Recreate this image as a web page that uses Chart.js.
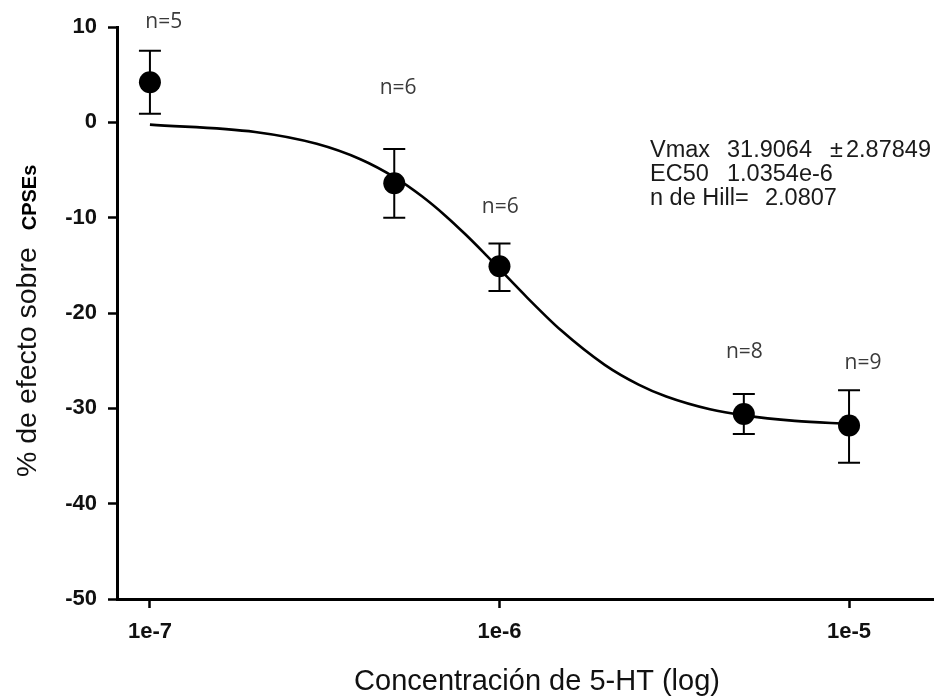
<!DOCTYPE html>
<html>
<head>
<meta charset="utf-8">
<script src="https://cdn.jsdelivr.net/npm/chart.js@4/dist/chart.umd.min.js"></script>
<style>
  html, body { margin: 0; padding: 0; background: #fff; }
  #c { display: block; }
</style>
</head>
<body>
<canvas id="c" width="934" height="696"></canvas>
<script>
// ---- data ----
const concentrations = [1e-7, 5e-7, 1e-6, 5e-6, 1e-5];
const meanEffect     = [4.2, -6.4, -15.1, -30.6, -31.8];
const errUpper       = [7.5, -2.8, -12.7, -28.5, -28.1];
const errLower       = [0.9, -10.0, -17.7, -32.7, -35.7];
const nLabels        = ['n=5', 'n=6', 'n=6', 'n=8', 'n=9'];
const nLabelX        = [1.095e-7, 5.13e-7, 1.005e-6, 5.02e-6, 1.096e-5];
const nLabelY        = [10.55, 3.6, -8.9, -24.1, -25.2];

// fitted sigmoid curve
const curveX = [1e-7, 2e-7, 3e-7, 4e-7, 5e-7, 6e-7, 7e-7, 8e-7, 9e-7, 1e-6,
                1.2e-6, 1.5e-6, 2e-6, 2.5e-6, 3e-6, 4e-6, 5e-6, 7e-6, 1e-5];
const curveY = [-0.24, -1.01, -2.25, -3.87, -5.75, -7.76, -9.79, -11.77, -13.64, -15.38,
                -18.38, -21.82, -25.44, -27.51, -28.76, -30.10, -30.74, -31.32, -31.63];

const xTickValues = [1e-7, 1e-6, 1e-5];
const xTickLabels = ['1e-7', '1e-6', '1e-5'];
const yMin = -50, yMax = 10, yStep = 10;

const fitLines = [
  ['Vmax', '31.9064', '\u00B1', '2.87849'],
  ['EC50', '1.0354e-6'],
  ['n de Hill=', '2.0807']
];

const xTitle = 'Concentración de 5-HT (log)';
const yTitleMain = '% de efecto sobre';
const yTitleSub = 'CPSEs';

// ---- chart ----
const SANS = '"Liberation Sans", Arial, Helvetica, sans-serif';

const decorPlugin = {
  id: 'decor',
  beforeDatasetsDraw(chart) {
    const ctx = chart.ctx;
    const xs = chart.scales.x, ys = chart.scales.y;
    ctx.save();
    ctx.strokeStyle = '#000';
    ctx.lineWidth = 2;
    const cap = 11;
    for (let i = 0; i < concentrations.length; i++) {
      const px = xs.getPixelForValue(concentrations[i]);
      const pt = ys.getPixelForValue(errUpper[i]);
      const pb = ys.getPixelForValue(errLower[i]);
      ctx.beginPath();
      ctx.moveTo(px, pt); ctx.lineTo(px, pb);
      ctx.moveTo(px - cap, pt); ctx.lineTo(px + cap, pt);
      ctx.moveTo(px - cap, pb); ctx.lineTo(px + cap, pb);
      ctx.stroke();
    }
    ctx.restore();
  },
  afterDraw(chart) {
    const ctx = chart.ctx;
    const xs = chart.scales.x, ys = chart.scales.y;
    ctx.save();
    // n labels
    ctx.fillStyle = '#3a3a3a';
    ctx.font = '21px "Open Sans", "Noto Sans", sans-serif';
    ctx.textAlign = 'center';
    ctx.textBaseline = 'middle';
    for (let i = 0; i < nLabels.length; i++) {
      ctx.fillText(nLabels[i], xs.getPixelForValue(nLabelX[i]), ys.getPixelForValue(nLabelY[i]));
    }
    // fit parameters
    ctx.fillStyle = '#1a1a1a';
    ctx.font = '23.5px ' + SANS;
    ctx.textAlign = 'left';
    ctx.textBaseline = 'alphabetic';
    const colX = [[650, 727, 830, 846], [650, 727], [650, 765]];
    const baseY = [157, 181, 205];
    fitLines.forEach((parts, r) => {
      parts.forEach((t, k) => ctx.fillText(t, colX[r][k], baseY[r]));
    });
    // x title
    ctx.fillStyle = '#111';
    ctx.font = '29px ' + SANS;
    ctx.textAlign = 'center';
    ctx.fillText(xTitle, 537, 690);
    // y title (rotated)
    ctx.translate(36, 477);
    ctx.rotate(-Math.PI / 2);
    ctx.textAlign = 'left';
    ctx.font = '28.5px ' + SANS;
    ctx.fillText(yTitleMain, 0, 0);
    const w = ctx.measureText(yTitleMain).width;
    ctx.font = 'bold 20px ' + SANS;
    ctx.fillStyle = '#000';
    ctx.fillText(yTitleSub, w + 17, 0);
    ctx.restore();
  }
};

const tickFont = { family: SANS, size: 22, weight: 'bold' };

new Chart(document.getElementById('c').getContext('2d'), {
  type: 'scatter',
  data: {
    datasets: [
      {
        data: concentrations.map((x, i) => ({ x, y: meanEffect[i] })),
        pointRadius: 11,
        pointHoverRadius: 11,
        pointBackgroundColor: '#000',
        pointBorderColor: '#000',
        pointBorderWidth: 0,
        showLine: false,
        clip: false
      },
      {
        data: curveX.map((x, i) => ({ x, y: curveY[i] })),
        showLine: true,
        borderColor: '#000',
        borderWidth: 2.6,
        pointRadius: 0,
        cubicInterpolationMode: 'monotone',
        fill: false
      }
    ]
  },
  options: {
    responsive: false,
    animation: false,
    devicePixelRatio: 1,
    layout: { autoPadding: false, padding: { top: 27, right: 0, left: 0, bottom: 0 } },
    plugins: { legend: { display: false }, tooltip: { enabled: false } },
    scales: {
      x: {
        type: 'logarithmic',
        min: 8.05e-8,
        max: 1.75e-5,
        afterBuildTicks: (s) => { s.ticks = xTickValues.map(v => ({ value: v })); },
        afterFit: (s) => { s.height = 97; s.paddingLeft = 0; s.paddingRight = 0; },
        ticks: {
          callback: (v, i) => xTickLabels[i],
          font: tickFont, color: '#111', padding: 11,
          maxRotation: 0, autoSkip: false
        },
        grid: { drawOnChartArea: false, drawTicks: true, tickLength: 9, tickWidth: 2.5, tickColor: '#000' },
        border: { display: true, color: '#000', width: 3 }
      },
      y: {
        min: yMin, max: yMax,
        afterFit: (s) => { s.width = 117; },
        ticks: { stepSize: yStep, font: tickFont, color: '#111', padding: 11 },
        grid: { drawOnChartArea: false, drawTicks: true, tickLength: 9, tickWidth: 2.5, tickColor: '#000' },
        border: { display: true, color: '#000', width: 3 }
      }
    }
  },
  plugins: [decorPlugin]
});
</script>
</body>
</html>
